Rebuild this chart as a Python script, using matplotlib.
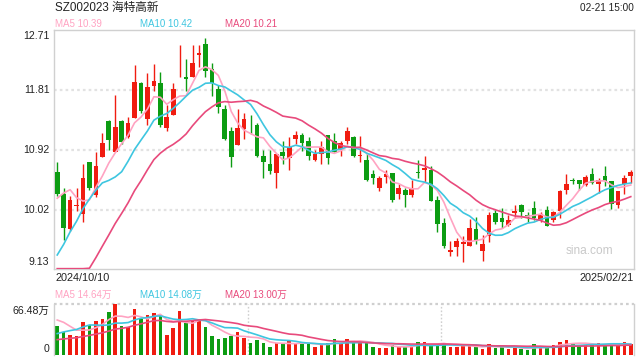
import matplotlib
matplotlib.use('Agg')
import matplotlib.pyplot as plt
import numpy as np
import pandas as pd

plt.rcParams['font.family'] = ['Liberation Sans', 'Noto Sans CJK SC', 'DejaVu Sans']

# daily candles 2024/10/10 .. 2025/02/21 (90 trading days)
opens = [10.59, 10.25, 9.73, 10.07, 9.96, 10.74, 10.24, 10.81, 11.34, 10.89,
         11.34, 11.11, 11.39, 11.91, 11.37, 11.87, 11.91, 11.24, 11.43, 12.12,
         12.00, 12.01, 12.34, 12.50, 12.12, 11.83, 11.52, 11.20, 10.99, 11.22,
         11.32, 11.29, 10.83, 10.70, 10.57, 10.89, 10.80, 11.07, 11.14, 11.05,
         10.76, 10.86, 11.13, 11.05, 10.91, 11.04, 11.10, 10.82, 10.76, 10.55,
         10.34, 10.51, 10.57, 10.25, 10.31, 10.24, 10.58, 10.61, 10.61, 10.16,
         9.82, 9.39, 9.46, 9.51, 9.47, 9.73, 9.40, 9.63, 9.97, 9.89,
         9.79, 9.97, 10.09, 9.94, 10.04, 9.87, 10.01, 9.87, 10.00, 10.31,
         10.46, 10.46, 10.39, 10.55, 10.40, 10.52, 10.45, 10.09, 10.40, 10.52]
highs = [10.74, 10.35, 10.22, 10.35, 10.70, 10.74, 10.89, 11.17, 11.36, 11.74,
         11.36, 11.40, 12.19, 11.93, 12.07, 12.20, 12.08, 11.59, 11.92, 12.49,
         12.27, 12.49, 12.49, 12.59, 12.21, 11.89, 11.59, 11.25, 11.53, 11.47,
         11.43, 11.31, 10.91, 10.91, 10.85, 11.05, 11.10, 11.20, 11.16, 11.11,
         10.91, 11.05, 11.13, 11.16, 11.05, 11.26, 11.12, 11.12, 10.87, 10.62,
         10.52, 10.62, 10.57, 10.41, 10.34, 10.47, 10.76, 10.83, 10.68, 10.22,
         9.89, 9.55, 9.59, 9.63, 9.88, 9.91, 9.64, 9.99, 10.02, 10.04,
         9.94, 10.09, 10.11, 9.99, 10.15, 9.98, 10.08, 10.00, 10.32, 10.55,
         10.50, 10.46, 10.54, 10.64, 10.50, 10.68, 10.45, 10.30, 10.54, 10.62]
lows = [10.22, 9.57, 9.70, 10.00, 9.83, 10.32, 10.21, 10.81, 10.92, 10.88,
        11.00, 11.09, 11.39, 11.47, 11.28, 11.79, 11.26, 11.19, 11.43, 12.01,
        11.79, 12.01, 12.16, 12.01, 11.72, 11.47, 11.06, 10.66, 10.99, 11.08,
        11.15, 10.81, 10.50, 10.56, 10.35, 10.70, 10.62, 11.00, 10.90, 10.77,
        10.75, 10.71, 10.71, 10.89, 10.82, 11.00, 10.81, 10.73, 10.45, 10.40,
        10.30, 10.42, 10.13, 10.18, 10.06, 10.21, 10.49, 10.44, 10.15, 9.68,
        9.45, 9.33, 9.33, 9.23, 9.47, 9.50, 9.25, 9.54, 9.80, 9.75,
        9.77, 9.90, 9.90, 9.84, 9.86, 9.84, 9.77, 9.83, 9.90, 10.26,
        10.40, 10.32, 10.37, 10.41, 10.27, 10.38, 10.03, 10.04, 10.25, 10.42]
closes = [10.25, 9.74, 10.17, 10.09, 10.49, 10.34, 10.68, 11.01, 11.06, 11.26,
          11.03, 11.32, 11.93, 11.49, 11.86, 11.95, 11.28, 11.41, 11.83, 12.13,
          11.98, 12.22, 12.36, 12.10, 11.92, 11.55, 11.07, 10.81, 11.24, 11.37,
          11.31, 10.82, 10.73, 10.60, 10.85, 10.83, 10.96, 11.13, 11.02, 10.83,
          10.85, 10.95, 10.79, 10.89, 11.02, 11.19, 10.83, 10.83, 10.47, 10.49,
          10.49, 10.56, 10.16, 10.34, 10.24, 10.35, 10.57, 10.64, 10.15, 9.81,
          9.48, 9.41, 9.55, 9.53, 9.74, 9.55, 9.51, 9.94, 9.83, 9.83,
          9.86, 10.00, 9.99, 9.92, 9.90, 9.95, 9.78, 9.98, 10.30, 10.41,
          10.45, 10.41, 10.51, 10.42, 10.46, 10.45, 10.11, 10.30, 10.50, 10.58]
# closes of the 19 sessions before the window (for the moving averages)
pre_closes = [7.6, 7.55, 7.5, 7.5, 7.45, 7.5, 7.6, 7.7, 7.8, 8.0,
              8.15, 8.3, 8.5, 8.6, 8.9, 9.35, 9.92, 10.69, 10.74]

# volume, 万股
volumes = [38.1, 29.7, 26.2, 24.9, 43.3, 38.9, 44.6, 47.2, 56.4, 66.48,
           38.1, 36.7, 60.4, 47.2, 52.5, 54.2, 51.2, 26.2, 35.4, 57.7,
           42.0, 45.9, 44.6, 36.7, 24.9, 21.0, 22.3, 24.9, 30.2, 22.7,
           16.2, 19.7, 16.2, 10.5, 15.3, 14.9, 18.4, 14.9, 14.4, 14.9,
           10.9, 13.1, 15.3, 21.0, 15.3, 21.0, 17.5, 17.5, 16.2, 10.5,
           9.6, 9.6, 13.1, 10.5, 10.5, 10.9, 17.5, 17.5, 13.1, 13.1,
           14.4, 10.9, 10.9, 11.8, 11.8, 10.9, 7.9, 14.4, 9.2, 10.9,
           7.9, 9.6, 7.9, 6.6, 14.4, 9.6, 10.1, 13.1, 17.5, 19.7,
           14.4, 12.2, 13.1, 13.1, 15.3, 13.5, 14.2, 13.1, 17.5, 14.4]
pre_volumes = [10, 11, 9, 12, 10, 11, 13, 12, 14, 19,
               8, 9, 10, 11, 13, 45, 52, 50, 43]

price_ticks = [12.71, 11.81, 10.92, 10.02, 9.13]
start_date = '2024/10/10'
end_date = '2025/02/21'

RED = '#f01c10'
GREEN = '#0c9c12'
C_MA5 = '#ffa3c2'
C_MA10 = '#3ec6e0'
C_MA20 = '#e84a7c'
BORDER = '#d0d0d0'
GRID = '#e2e2e2'

n = len(closes)
x = np.arange(n)
o = np.array(opens); h = np.array(highs); l = np.array(lows); c = np.array(closes)
up = c >= o
cols = np.where(up, RED, GREEN)

all_c = pd.Series(pre_closes + closes)
ma = {k: all_c.rolling(k).mean().values[len(pre_closes):] for k in (5, 10, 20)}
all_v = pd.Series(pre_volumes + volumes)
vma = {k: all_v.rolling(k).mean().values[len(pre_volumes):] for k in (5, 10, 20)}

W, H = 640, 360
fig = plt.figure(figsize=(6.4, 3.6), dpi=100)

def px(x0, y0, w, hgt):
    return [x0 / W, 1 - (y0 + hgt) / H, w / W, hgt / H]

ax = fig.add_axes(px(54, 30, 580, 239))
ymin, ymax = price_ticks[-1], price_ticks[0]
ax.set_xlim(-0.5, n - 0.5)
ax.set_ylim(ymin, ymax)
for t in price_ticks[1:-1]:
    ax.axhline(t, color=GRID, lw=1.6, ls=(0, (1.2, 1.4)), zorder=0)

ax.vlines(x, l, h, colors=cols, lw=1.0, zorder=2)
body = np.maximum(np.abs(c - o), 0.012)
ax.bar(x, body, bottom=np.minimum(o, c), width=0.74, color=cols, lw=0, zorder=3)

ax.plot(x, ma[5], color=C_MA5, lw=1.2, zorder=4)
ax.plot(x, ma[10], color=C_MA10, lw=1.2, zorder=4)
ax.plot(x, np.clip(ma[20], ymin + 0.005, None), color=C_MA20, lw=1.2, zorder=4)

ax.set_xticks([]); ax.set_yticks([])
for s in ax.spines.values():
    s.set_color(BORDER)
    s.set_linewidth(1.0)

tr = ax.get_yaxis_transform()
lab = dict(fontsize=7.6, color='#222222', ha='right', transform=tr)
ax.text(-0.008, ymax - 0.015, '%.2f' % ymax, va='top', **lab)
for t in price_ticks[1:-1]:
    ax.text(-0.008, t, '%.2f' % t, va='center', **lab)
ax.text(-0.008, ymin + 0.03, '%.2f' % ymin, va='bottom', **lab)

ax.text(0.965, 0.075, 'sina.com', transform=ax.transAxes, ha='right', va='center',
        fontsize=8.6, color='#c9c9c9')

# volume panel
vax = fig.add_axes(px(54, 304, 580, 51))
vax.set_xlim(-0.5, n - 0.5)
vmax = max(volumes)
vax.set_ylim(0, vmax)
vax.bar(x, volumes, width=0.54, color=cols, lw=0, zorder=2)
vax.plot(x, vma[5], color=C_MA5, lw=1.2, zorder=3)
vax.plot(x, vma[10], color=C_MA10, lw=1.2, zorder=3)
vax.plot(x, vma[20], color=C_MA20, lw=1.2, zorder=3)
for xv in (29.6, 59.6):
    vax.axvline(xv, color='#cfcfcf', lw=1.0, ls=(0, (1.2, 1.4)), zorder=0)
vax.axhline(vmax, color='#cfcfcf', lw=1.6, ls=(0, (1.2, 1.4)), zorder=1, clip_on=False)
vax.set_xticks([]); vax.set_yticks([])
for k, s in vax.spines.items():
    s.set_color(BORDER)
    s.set_linewidth(1.0)
vax.spines['top'].set_visible(False)
vax.spines['bottom'].set_visible(False)
vtr = vax.get_yaxis_transform()
vax.text(-0.008, vmax * 0.97, '%.2f万' % vmax, va='top', fontsize=7.6, color='#222222',
         ha='right', transform=vtr)
vax.text(-0.008, vmax * 0.02, '0', va='bottom', fontsize=7.6, color='#222222',
         ha='right', transform=vtr)

def ftxt(xp, yp, s, **kw):
    fig.text(xp / W, 1 - yp / H, s, va='center', **kw)

ftxt(55, 8, 'SZ002023 海特高新', fontsize=8.4, color='#222222')
ftxt(634, 8, '02-21 15:00', fontsize=7.2, color='#222222', ha='right')
ftxt(55, 24, 'MA5 %.2f' % ma[5][-1], fontsize=7.0, color=C_MA5)
ftxt(140, 24, 'MA10 %.2f' % ma[10][-1], fontsize=7.0, color=C_MA10)
ftxt(225, 24, 'MA20 %.2f' % ma[20][-1], fontsize=7.0, color=C_MA20)
ftxt(55, 278, start_date, fontsize=7.8, color='#222222')
ftxt(634, 278, end_date, fontsize=7.8, color='#222222', ha='right')
ftxt(55, 295, 'MA5 14.64万', fontsize=7.0, color=C_MA5)
ftxt(140, 295, 'MA10 14.08万', fontsize=7.0, color=C_MA10)
ftxt(225, 295, 'MA20 13.00万', fontsize=7.0, color=C_MA20)

fig.savefig('out.png', dpi=100)
